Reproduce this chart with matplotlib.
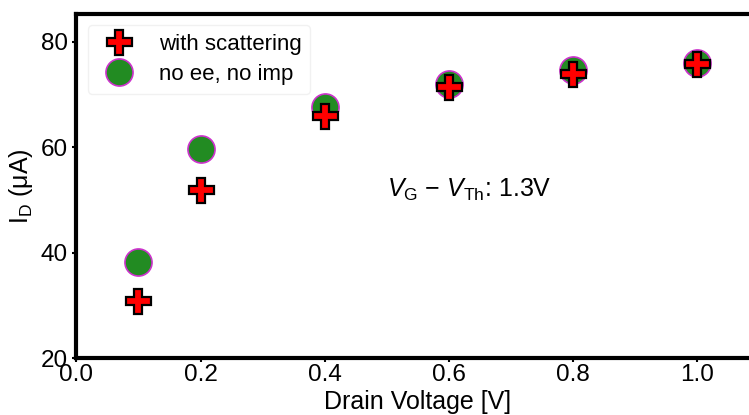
import matplotlib
matplotlib.use("Agg")
import matplotlib.pyplot as plt

plt.rcParams['font.family'] = ['Liberation Sans', 'DejaVu Sans']
plt.rcParams['mathtext.fontset'] = 'custom'
plt.rcParams['mathtext.rm'] = 'Liberation Sans'
plt.rcParams['mathtext.it'] = 'Liberation Sans:italic'

drain_v = [0.1, 0.2, 0.4, 0.6, 0.8, 1.0]
with_scattering = [30.8, 51.8, 65.9, 71.3, 73.8, 75.7]
no_ee_no_imp = [38.2, 59.7, 67.6, 72.0, 74.7, 75.9]

fig = plt.figure(figsize=(7.49, 4.15), dpi=100)
ax = fig.add_axes([0.102, 0.137, 0.912, 0.829])

ax.plot(drain_v, no_ee_no_imp, linestyle='none', marker='o', markersize=19.5,
        markerfacecolor='#228b22', markeredgecolor='#cc33cc', markeredgewidth=1.2,
        label='no ee, no imp', zorder=3)
ax.plot(drain_v, with_scattering, linestyle='none', marker='P', markersize=18,
        markerfacecolor='#ff0000', markeredgecolor='black', markeredgewidth=1.6,
        label='with scattering', zorder=4)

handles, labels = ax.get_legend_handles_labels()
leg = ax.legend(handles[::-1], labels[::-1], loc='upper left', fontsize=16,
                frameon=True, borderpad=0.4, labelspacing=0.4,
                handletextpad=0.8, bbox_to_anchor=(0.0, 1.0))
leg.get_frame().set_edgecolor('#eeeeee')
leg.get_frame().set_linewidth(1.0)

ax.text(0.50, 51.8, '$V_\\mathrm{G}$ \u2212 $V_\\mathrm{Th}$: 1.3V', fontsize=18,
        va='center', ha='left')

ax.set_xlim(0, 1.1)
ax.set_ylim(20, 85.2)
ax.set_xticks([0.0, 0.2, 0.4, 0.6, 0.8, 1.0])
ax.set_yticks([20, 40, 60, 80])
ax.tick_params(labelsize=17.5, length=3, width=1.5, direction='out')
ax.tick_params(axis='x', pad=1)
ax.tick_params(axis='y', pad=3)
for s in ax.spines.values():
    s.set_linewidth(3)

ax.set_xlabel('Drain Voltage [V]', fontsize=18, labelpad=3)
ax.set_ylabel(r'I$_\mathrm{D}$ ($\mathrm{\mu}$A)', fontsize=18, labelpad=4)

fig.savefig('out.png', dpi=100)
